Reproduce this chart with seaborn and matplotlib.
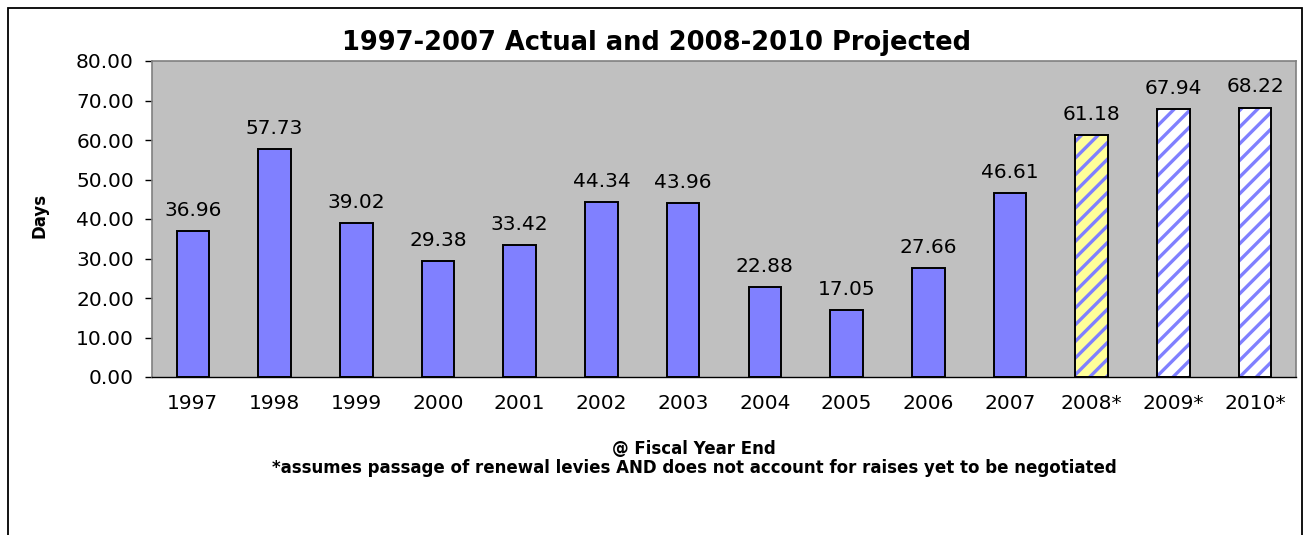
import numpy as np
import pandas as pd
import matplotlib
matplotlib.use("Agg")
import matplotlib.pyplot as plt
from matplotlib.patches import Rectangle
import seaborn as sns

years = ["1997", "1998", "1999", "2000", "2001", "2002", "2003",
         "2004", "2005", "2006", "2007", "2008*", "2009*", "2010*"]
days = [36.96, 57.73, 39.02, 29.38, 33.42, 44.34, 43.96,
        22.88, 17.05, 27.66, 46.61, 61.18, 67.94, 68.22]
projected_fill = {"2008*": "#FFFF99", "2009*": "#FFFFFF", "2010*": "#FFFFFF"}

title = "1997-2007 Actual and 2008-2010 Projected"
xlabel1 = "@ Fiscal Year End"
xlabel2 = "*assumes passage of renewal levies AND does not account for raises yet to be negotiated"
ylabel = "Days"

sns.set_style("white")
plt.rcParams["font.family"] = ["DejaVu Sans"]
plt.rcParams["hatch.linewidth"] = 2.4
plt.rcParams["text.color"] = "black"
plt.rcParams["xtick.color"] = "black"
plt.rcParams["ytick.color"] = "black"
plt.rcParams["xtick.labelcolor"] = "black"
plt.rcParams["ytick.labelcolor"] = "black"

BLUE = "#8080FF"
df = pd.DataFrame({"year": years, "days": days})

W, H = 1304, 535
fig = plt.figure(figsize=(W / 100, H / 100), dpi=100)
fig.patch.set_facecolor("white")
left, right, top, bottom = 152, 1296, 61, 377
ax = fig.add_axes([left / W, 1 - bottom / H, (right - left) / W, (bottom - top) / H])
ax.set_facecolor("#C0C0C0")

sns.barplot(data=df, x="year", y="days", ax=ax, color=BLUE, saturation=1,
            width=0.4, edgecolor="black", linewidth=1.4, errorbar=None)

# projected bars: hatched fill
for i, (yr, val) in enumerate(zip(years, days)):
    if yr in projected_fill:
        p = ax.patches[i]
        p.set_facecolor(projected_fill[yr])
        p.set_edgecolor(BLUE)
        p.set_hatch("//")
        p.set_linewidth(0)
proj_idx = [i for i, y in enumerate(years) if y in projected_fill]
ax.bar(proj_idx, [days[i] for i in proj_idx], width=0.4, fill=False,
       edgecolor="black", linewidth=1.4, zorder=3)

ax.bar_label(ax.containers[0], fmt="%.2f", padding=8, fontsize=14.5, color="black")

ax.set_ylim(0, 80)
ax.set_xlim(-0.5, len(years) - 0.5)
ax.set_yticks(np.arange(0, 81, 10))
ax.set_yticklabels([f"{v:.2f}" for v in np.arange(0, 81, 10)], fontsize=14.5)
ax.set_xticks(range(len(years)))
ax.set_xticklabels(years, fontsize=14.5)
ax.set_xticks(np.arange(-0.5, len(years), 1), minor=True)
ax.tick_params(axis="x", which="major", length=0, pad=12)
ax.tick_params(axis="x", which="minor", length=5, width=1, color="black", direction="out")
ax.tick_params(axis="y", which="major", length=5, width=1, color="black", direction="out", pad=8)
ax.tick_params(left=True, bottom=True)
ax.set_xlabel("")
ax.set_ylabel("")

for s in ["top", "right", "left"]:
    ax.spines[s].set_color("#808080")
    ax.spines[s].set_linewidth(1.2)
    ax.spines[s].set_visible(True)
ax.spines["bottom"].set_color("black")
ax.spines["bottom"].set_linewidth(1.0)
ax.spines["bottom"].set_visible(True)

fig.text(657 / W, 1 - 43 / H, title, ha="center", va="center",
         fontsize=18.5, fontweight="bold", color="black")
fig.text(40 / W, 1 - 215 / H, ylabel, ha="center", va="center",
         rotation=90, fontsize=12, fontweight="bold", color="black")
fig.text(694 / W, 1 - 449 / H, xlabel1, ha="center", va="center",
         fontsize=12, fontweight="bold", color="black")
fig.text(694 / W, 1 - 468 / H, xlabel2, ha="center", va="center",
         fontsize=12, fontweight="bold", color="black")

fig.add_artist(Rectangle((8 / W, -0.05), (1302 - 8) / W, 1.05 - 8 / H,
                         transform=fig.transFigure, fill=False,
                         edgecolor="black", linewidth=1.3))

fig.savefig("out.png", dpi=100)
